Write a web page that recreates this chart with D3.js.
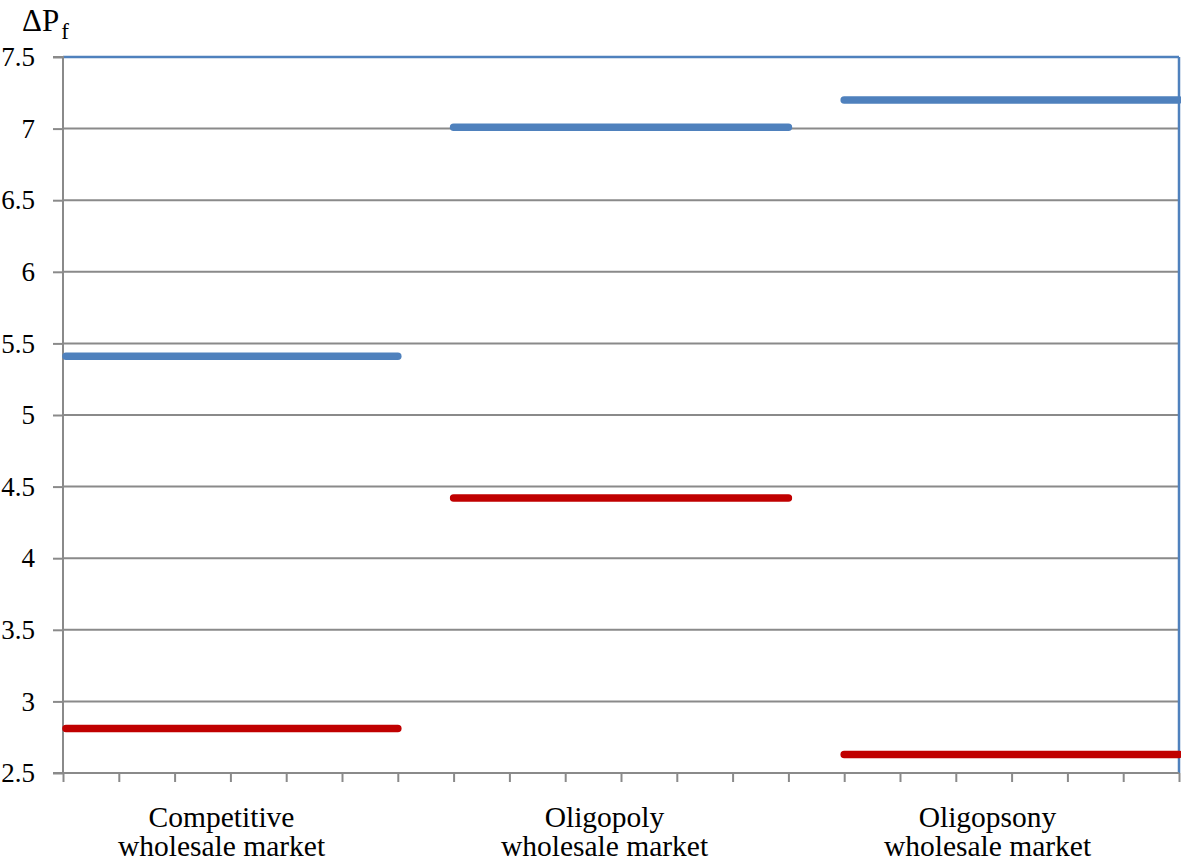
<!DOCTYPE html>
<html>
<head>
<meta charset="utf-8">
<script src="https://cdn.jsdelivr.net/npm/d3@7"></script>
<style>
  body { margin: 0; background: #fff; }
  svg { display: block; }
  svg text { font-family: "Liberation Serif", "Times New Roman", Times, "DejaVu Serif", serif; }
</style>
</head>
<body>
<svg id="chart" width="1181" height="864"></svg>
<script>
// Data
const categories = ["Competitive wholesale market", "Oligopoly wholesale market", "Oligopsony wholesale market"];
const labelLines = [["Competitive", "wholesale market"], ["Oligopoly", "wholesale market"], ["Oligopsony", "wholesale market"]];
const segStart = [0, 7, 14];
const segEnd = [6, 13, 20];
const blueValues = [5.41, 7.01, 7.2];
const redValues = [2.81, 4.42, 2.63];
const yTicks = [2.5, 3, 3.5, 4, 4.5, 5, 5.5, 6, 6.5, 7, 7.5];
const xTicks = d3.range(0, 21);

const FONT = "'Liberation Serif', 'Times New Roman', Times, serif";
const svg = d3.select("#chart");
const pLeft = 63, pRight = 1179, pTop = 57, pBottom = 773;

const x = d3.scaleLinear().domain([0, 20]).range([pLeft, pRight]);
const y = d3.scaleLinear().domain([2.5, 7.5]).range([pBottom, pTop]);
const xCat = d3.scaleBand().domain(categories).range([30, 1179]);

// Gridlines
svg.append("g").selectAll("line")
  .data(yTicks.filter(d => d > 2.5 && d < 7.5))
  .join("line")
  .attr("x1", pLeft).attr("x2", pRight)
  .attr("y1", d => y(d)).attr("y2", d => y(d))
  .attr("stroke", "#8a8a8a").attr("stroke-width", 2);

// Plot border (blue top/right)
svg.append("line").attr("x1", pLeft).attr("x2", pRight).attr("y1", y(7.5)).attr("y2", y(7.5))
  .attr("stroke", "#4F81BD").attr("stroke-width", 2.5);
svg.append("line").attr("x1", pRight).attr("x2", pRight).attr("y1", y(7.5)).attr("y2", y(2.5))
  .attr("stroke", "#4F81BD").attr("stroke-width", 2.5);

// Y axis
const yAxis = d3.axisLeft(y).tickValues(yTicks).tickSize(10).tickPadding(18)
  .tickFormat(d => String(d));
const gy = svg.append("g").attr("transform", `translate(${pLeft},0)`).call(yAxis)
  .attr("font-family", FONT);
gy.selectAll("path, line").attr("stroke", "#8a8a8a").attr("stroke-width", 2);
gy.select("path").attr("d", `M-10,${pTop}H0V${pBottom}H-10`);
gy.selectAll("text").attr("font-size", 27).attr("fill", "#000")
  .style("font-family", FONT);

// X axis
const xAxis = d3.axisBottom(x).tickValues(xTicks).tickSize(9).tickFormat("");
const gx = svg.append("g").attr("transform", `translate(0,${pBottom})`).call(xAxis);
gx.selectAll("path, line").attr("stroke", "#8a8a8a").attr("stroke-width", 2);
gx.select("path").attr("d", `M${pLeft},0H${pRight}`);

// Series segments
const segs = [];
blueValues.forEach((v, i) => segs.push({ s: segStart[i], e: segEnd[i], v, c: "#4F81BD" }));
redValues.forEach((v, i) => segs.push({ s: segStart[i], e: segEnd[i], v, c: "#C00000" }));
svg.append("g").selectAll("line").data(segs).join("line")
  .attr("x1", d => x(d.s) + (d.s === 0 ? 3 : 0))
  .attr("x2", d => x(d.e))
  .attr("y1", d => y(d.v)).attr("y2", d => y(d.v))
  .attr("stroke", d => d.c).attr("stroke-width", 7.5)
  .attr("stroke-linecap", "round");

// Category labels
const lab = svg.append("g").selectAll("text").data(categories).join("text")
  .attr("text-anchor", "middle")
  .attr("font-size", 29.5)
  .style("font-family", FONT)
  .attr("fill", "#000");
lab.each(function (d, i) {
  const cx = xCat(d) + xCat.bandwidth() / 2;
  const t = d3.select(this);
  t.append("tspan").attr("x", cx).attr("y", 827).text(labelLines[i][0]);
  t.append("tspan").attr("x", cx).attr("y", 856).text(labelLines[i][1]);
});

// Y axis title
const title = svg.append("text").attr("x", 22).attr("y", 31).attr("font-size", 31)
  .style("font-family", FONT).attr("fill", "#000");
title.append("tspan").text("ΔP");
title.append("tspan").attr("font-size", 23).attr("dy", 8).attr("dx", 2).text("f");
</script>
</body>
</html>
